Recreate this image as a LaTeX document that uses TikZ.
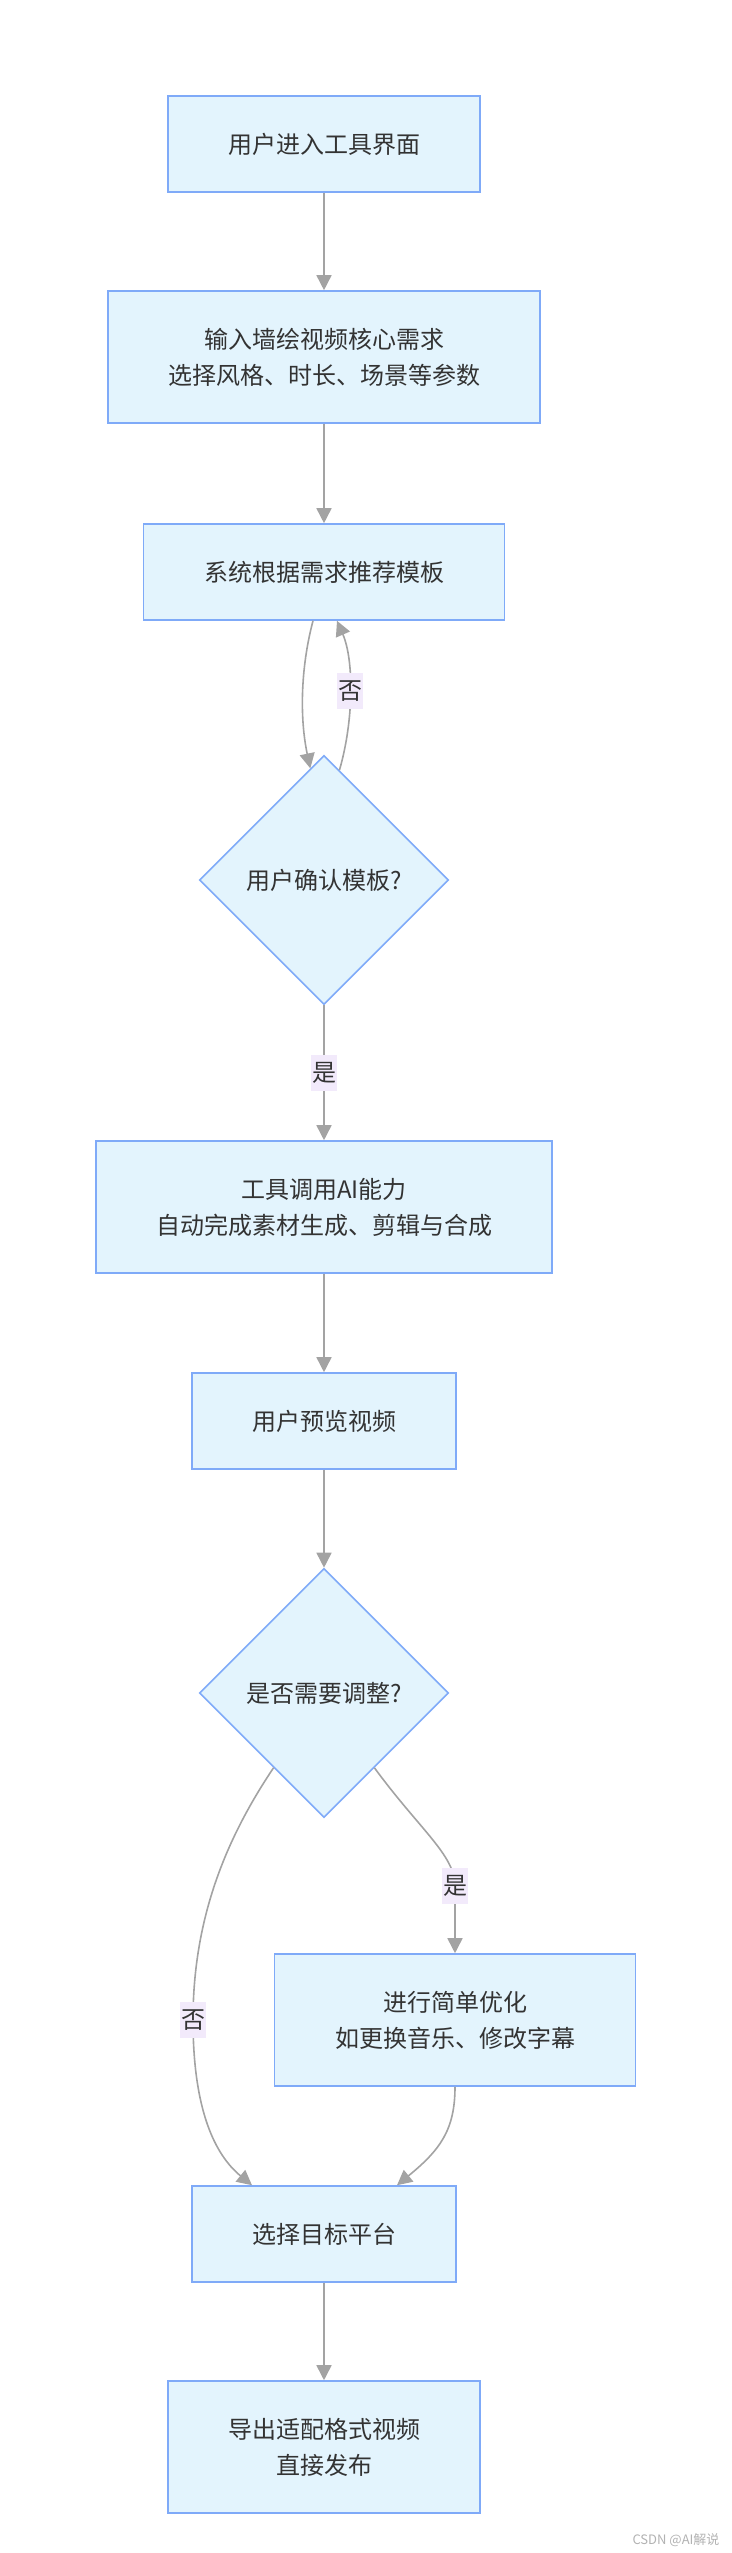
\documentclass[tikz,border=0pt]{standalone}
\usepackage{fontspec}
\setmainfont{Noto Sans CJK SC}
\usepackage{tikz}
\usetikzlibrary{shapes.geometric,arrows.meta}
\definecolor{boxfill}{HTML}{E3F4FD}
\definecolor{boxline}{HTML}{7FAAF8}
\definecolor{edgegray}{HTML}{A3A3A3}
\definecolor{labelbg}{HTML}{F2EAFB}
\definecolor{txt}{HTML}{333333}

\begin{document}
\begin{tikzpicture}[
				      x=1pt, y=-1pt,
				      every node/.style = {text=txt, font=\fontsize{24}{36}\selectfont},
				      process/.style = {shape=rectangle, draw=boxline, fill=boxfill,
						      line width=1.6pt, align=center, inner sep=0pt,
						      minimum height=96pt},
				      decision/.style = {shape=diamond, draw=boxline, fill=boxfill,
						      line width=1.6pt, inner sep=0pt,
						      minimum width=249pt, minimum height=249pt},
				      flow/.style = {draw=edgegray, line width=1.6pt,
						      -{Triangle[length=15pt,width=15pt]}},
				      answer/.style = {fill=labelbg, inner xsep=1pt, inner ysep=0pt,
						      minimum height=36pt}
			      ]
			      \useasboundingbox (0,0) rectangle (731,2553);

			      \node[process, minimum width=312pt] (enter) at (324,144) {用户进入工具界面};
			      \node[process, minimum width=432pt, minimum height=132pt] (input) at (324,357)
				      {输入墙绘视频核心需求\\选择风格、时长、场景等参数};
			      \node[process, minimum width=361pt] (recommend) at (324,572) {系统根据需求推荐模板};
			      \node[decision] (confirm) at (324,880) {用户确认模板?};
			      \node[process, minimum width=456pt, minimum height=132pt] (callai) at (324,1207)
				      {工具调用AI能力\\自动完成素材生成、剪辑与合成};
			      \node[process, minimum width=264pt] (preview) at (324,1421) {用户预览视频};
			      \node[decision] (adjust) at (324,1693) {是否需要调整?};
			      \node[process, minimum width=361pt, minimum height=132pt] (optimize) at (455,2020)
				      {进行简单优化\\如更换音乐、修改字幕};
			      \node[process, minimum width=264pt] (platform) at (324,2234) {选择目标平台};
			      \node[process, minimum width=312pt, minimum height=132pt] (export) at (324,2447)
				      {导出适配格式视频\\直接发布};

			      \draw[flow] (enter) -- (input);
			      \draw[flow] (input) -- (recommend);
			      \draw[flow] ([xshift=-11pt]recommend.south) .. controls (300,670) and (300,720) .. (confirm.97);
			      \draw[flow] (confirm.82) .. controls (354,720) and (354,660) .. node[answer] (no1) {否}
				      ([xshift=13pt]recommend.south);
			      \draw[flow] (confirm) -- node[answer] (yes1) {是} (callai);
			      \draw[flow] (callai) -- (preview);
			      \draw[flow] (preview) -- (adjust);
			      \draw[flow] (adjust.-56) .. controls (420,1830) and (455,1855) .. (455,1886)
				      node[answer] (yes2) {是} -- (optimize.north);
			      \draw[flow] (adjust.-124) .. controls (225,1840) and (193,1920) .. (193,2020)
				      node[answer] (no2) {否}
				      .. controls (193,2110) and (215,2155) .. ([xshift=-72pt]platform.north);
			      \draw[flow] (optimize.south) .. controls (455,2130) and (440,2150) .. ([xshift=73pt]platform.north);
			      \draw[flow] (platform) -- (export);

			      \node[anchor=east, text=black!30, font=\fontsize{13}{15}\selectfont] (watermark)
				      at (723,2540) {CSDN @AI解说};
		      \end{tikzpicture}
\end{document}
